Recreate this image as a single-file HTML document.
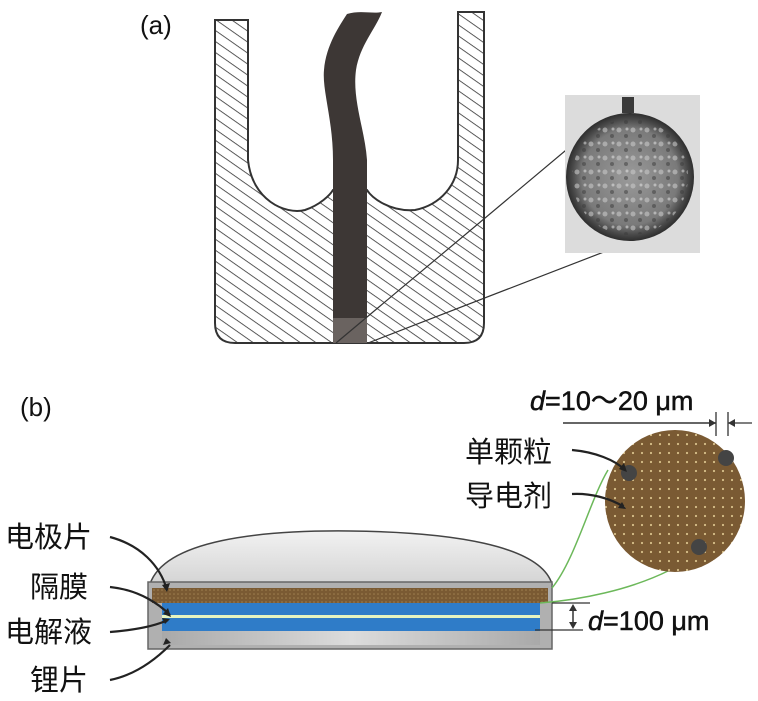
<!DOCTYPE html>
<html><head><meta charset="utf-8"><style>
html,body{margin:0;padding:0;background:#fff;}
svg{display:block;}
text{font-family:"Liberation Sans","Noto Sans CJK SC",sans-serif;fill:#111;}
</style></head><body>
<svg width="758" height="701" viewBox="0 0 758 701" xmlns="http://www.w3.org/2000/svg">
<defs>
<pattern id="hatch" patternUnits="userSpaceOnUse" width="9" height="9" patternTransform="rotate(35)">
<rect width="9" height="9" fill="#fff"/><line x1="0" y1="0" x2="9" y2="0" stroke="#333" stroke-width="1.6"/>
</pattern>
<radialGradient id="photo" cx="0.5" cy="0.5" r="0.5">
<stop offset="0" stop-color="#9a9a9a"/><stop offset="0.75" stop-color="#7a7a7a"/><stop offset="0.9" stop-color="#4a4a4a"/><stop offset="1" stop-color="#2e2e2e"/>
</radialGradient>
<pattern id="mottle" patternUnits="userSpaceOnUse" width="14" height="14">
<circle cx="3" cy="4" r="2.5" fill="#c8c8c8" opacity="0.6"/><circle cx="10" cy="10" r="2" fill="#3a3a3a" opacity="0.5"/><circle cx="11" cy="3" r="1.5" fill="#eee" opacity="0.5"/>
</pattern>
<pattern id="dots" patternUnits="userSpaceOnUse" width="9" height="9">
<rect width="9" height="9" fill="#7a5a33"/><circle cx="3" cy="3" r="1.1" fill="#d8c08a"/>
</pattern>
<pattern id="dots2" patternUnits="userSpaceOnUse" width="4" height="4">
<rect width="4" height="4" fill="#7a5a33"/><circle cx="2" cy="2" r="0.8" fill="#a08050"/>
</pattern>
<linearGradient id="dome" x1="0" y1="0" x2="0" y2="1">
<stop offset="0" stop-color="#f2f2f2"/><stop offset="1" stop-color="#d4d4d4"/>
</linearGradient>
<linearGradient id="gray" x1="0" y1="0" x2="1" y2="0">
<stop offset="0" stop-color="#a9a9a9"/><stop offset="0.5" stop-color="#dcdcdc"/><stop offset="1" stop-color="#a9a9a9"/>
</linearGradient>
</defs>

<!-- (a) -->
<text x="140" y="34" font-size="26">(a)</text>
<path d="M215 20 L248 20 L248 160 C252 200 285 215 305 210 C320 205 330 195 333 190 L367 190 C372 198 390 212 415 210 C440 205 458 185 458 160 L458 12 L484 12 L484 323 Q484 343 464 343 L235 343 Q215 343 215 323 Z" fill="url(#hatch)" stroke="#333" stroke-width="2"/>
<path d="M347 14 C360 10 372 14 382 12 C375 30 360 45 356 70 C352 100 365 130 367 160 L367 343 L333 343 L333 160 C333 120 322 90 324 70 C326 45 340 25 347 14 Z" fill="#3d3735"/>
<rect x="333" y="318" width="34" height="25" fill="#6a6360"/>
<line x1="336" y1="343" x2="590" y2="130" stroke="#333" stroke-width="1.2"/>
<line x1="368" y1="343" x2="653" y2="233" stroke="#333" stroke-width="1.2"/>
<rect x="565" y="95" width="135" height="158" fill="#dcdcdc"/>
<circle cx="630" cy="177" r="64" fill="url(#photo)"/>
<circle cx="630" cy="177" r="58" fill="url(#mottle)"/>
<rect x="622" y="97" width="12" height="16" fill="#3a3a3a"/>

<!-- (b) -->
<text x="20" y="416" font-size="26">(b)</text>
<path d="M150 584 C165 540 260 530 350 531 C450 532 540 545 552 584 Z" fill="url(#dome)" stroke="#444" stroke-width="1.5"/>
<rect x="148" y="582" width="404" height="67" fill="#b0b0b0" stroke="#666" stroke-width="1.5"/>
<rect x="152" y="588" width="396" height="15" fill="url(#dots2)"/>
<rect x="162" y="603" width="378" height="28" fill="#2f7cc8"/>
<rect x="162" y="615" width="378" height="3" fill="#e6f4c0"/>
<rect x="162" y="631" width="378" height="14" fill="url(#gray)"/>
<path d="M552 588 C575 560 590 500 608 470" fill="none" stroke="#6cb85a" stroke-width="1.5"/>
<path d="M540 603 C580 600 630 590 670 570" fill="none" stroke="#6cb85a" stroke-width="1.5"/>
<ellipse cx="675" cy="501" rx="70" ry="71" fill="url(#dots)"/>
<circle cx="629" cy="473" r="8" fill="#444"/>
<circle cx="726" cy="458" r="8" fill="#444"/>
<circle cx="699" cy="547" r="8" fill="#444"/>
<line x1="563" y1="423" x2="716" y2="423" stroke="#333" stroke-width="1.5"/>
<line x1="716" y1="412" x2="716" y2="436" stroke="#333" stroke-width="1.3"/>
<line x1="728" y1="412" x2="728" y2="436" stroke="#333" stroke-width="1.3"/>
<line x1="728" y1="423" x2="752" y2="423" stroke="#333" stroke-width="1.3"/>
<path d="M716 423 l-7 -4 v8 z M728 423 l7 -4 v8 z" fill="#333"/>
<text x="530" y="410" font-size="27" stroke="#111" stroke-width="0.5"><tspan font-style="italic">d</tspan>=10～20 μm</text>
<line x1="552" y1="603" x2="590" y2="603" stroke="#333" stroke-width="1.3"/>
<line x1="535" y1="630" x2="583" y2="630" stroke="#333" stroke-width="1.3"/>
<line x1="573" y1="606" x2="573" y2="627" stroke="#333" stroke-width="1.5"/>
<path d="M573 604 l-4 7 h8 z M573 629 l-4 -7 h8 z" fill="#333"/>
<text x="588" y="630" font-size="27" stroke="#111" stroke-width="0.5"><tspan font-style="italic">d</tspan>=100 μm</text>
<text x="5" y="547" font-size="29">电极片</text>
<text x="30" y="597" font-size="29">隔膜</text>
<text x="5" y="642" font-size="29">电解液</text>
<text x="30" y="690" font-size="29">锂片</text>
<text x="465" y="462" font-size="29">单颗粒</text>
<text x="465" y="506" font-size="29">导电剂</text>
<g fill="none" stroke="#222" stroke-width="2.2">
<path d="M110 537 C140 545 160 565 167 590"/>
<path d="M110 587 C140 590 160 605 170 615"/>
<path d="M110 632 C135 630 155 626 168 620"/>
<path d="M110 680 C135 675 155 660 170 645"/>
<path d="M572 450 C595 452 615 460 625 470"/>
<path d="M572 494 C590 493 610 498 624 507"/>
</g>
<g fill="#222">
<path d="M167 592 l-5 -7 l8 -2 z"/><path d="M171 617 l-8 -3 l5 -6 z"/><path d="M170 619 l-8 -1 l3 6 z"/><path d="M171 643 l-8 2 l3 -7 z"/>
<path d="M627 472 l-8 -3 l5 -6 z"/><path d="M626 509 l-8 -1 l4 -6 z"/>
</g>
</svg>
</body></html>
